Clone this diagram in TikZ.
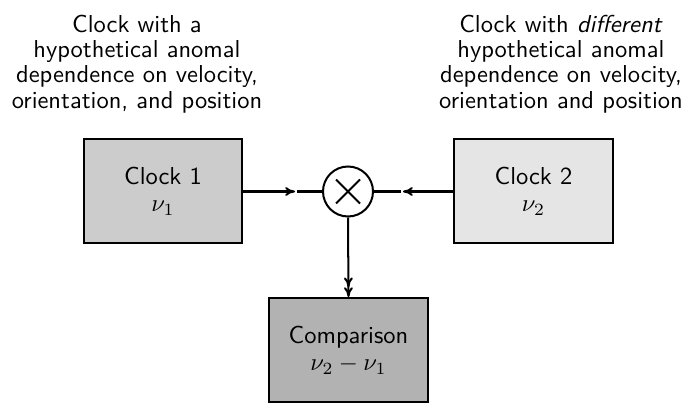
\documentclass[tikz,border=0pt]{standalone}
\usetikzlibrary{calc,arrows.meta}
\begin{document}
\begin{tikzpicture}[x=0.408pt,y=-0.408pt,
  lw/.style={line width=0.82pt},
  txt/.style={font=\sffamily\fontsize{10}{10.35}\selectfont, align=center, inner sep=0pt},
  btxt/.style={font=\sffamily\fontsize{10}{11.2}\selectfont, align=center, inner sep=0pt},
  clockbox/.style={lw, draw=black, minimum width=64.5pt, minimum height=42.4pt, inner sep=0pt, btxt},
  arr/.style={lw, -{To[length=4pt,width=3.6pt]}},
  darr/.style={lw, -{To[length=4pt,width=3.6pt] To[length=4pt,width=3.6pt]}}
]
\useasboundingbox (0,0) rectangle (682,403);
% description texts
\node[txt] (d1) at (137,64) {Clock with a\\hypothetical anomal\\dependence on velocity,\\orientation, and position};
\node[txt] (d2) at (561,64) {Clock with \textit{different}\\hypothetical anomal\\dependence on velocity,\\orientation and position};
% boxes
\node[clockbox, fill=black!20] (c1) at (163,191) {Clock 1\\$\nu_1$};
\node[clockbox, fill=black!10] (c2) at (533.5,191) {Clock 2\\$\nu_2$};
\node[clockbox, fill=black!30] (cmp) at (348.5,350) {Comparison\\$\nu_2-\nu_1$};
% mixer
\node[lw, draw, circle, minimum size=20.4pt, inner sep=0pt] (mix) at (348,191.5) {};
\draw[lw] ($(mix.center)+(-12,-12)$) -- ($(mix.center)+(12,12)$);
\draw[lw] ($(mix.center)+(-12,12)$) -- ($(mix.center)+(12,-12)$);
% connectors
\coordinate (m1) at (295,191.5);
\coordinate (m1b) at (297,191.5);
\coordinate (m2) at (403,191.5);
\coordinate (m2b) at (401,191.5);
\draw[arr] (c1.east |- mix) -- (m1);
\draw[lw] (m1b) -- (mix.west);
\draw[arr] (c2.west |- mix) -- (m2);
\draw[lw] (m2b) -- (mix.east);
\draw[darr] (mix.south) -- (cmp.north);
\end{tikzpicture}
\end{document}
